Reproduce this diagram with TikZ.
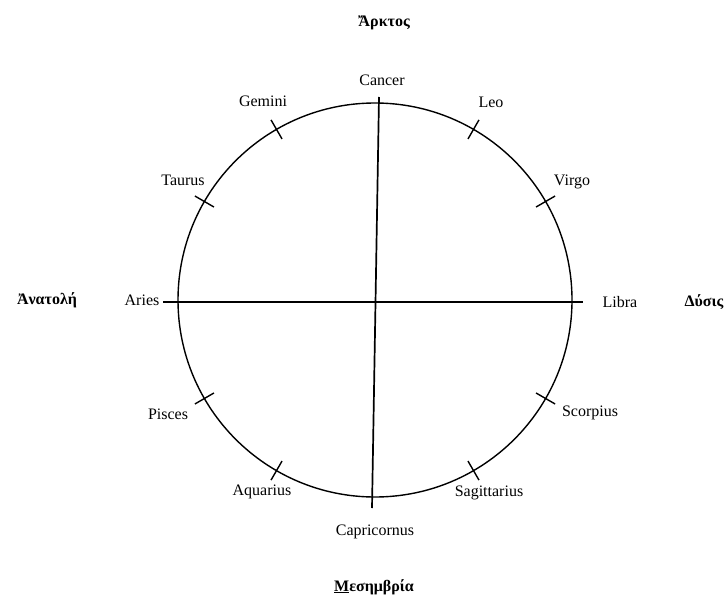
\documentclass[tikz,border=0pt]{standalone}
\usepackage{fontspec}
\setmainfont{Liberation Serif}
\usepackage{tikz}

\begin{document}
\begin{tikzpicture}[
  x=1pt, y=1pt,
  sign/.style={font=\fontsize{16}{18}\selectfont, inner sep=1pt},
  quarter/.style={font=\fontsize{16}{18}\selectfont\bfseries, inner sep=1pt},
  ring/.style={line width=1.4pt},
  axis/.style={line width=1.7pt},
]
\useasboundingbox (0,0) rectangle (727,598);
\coordinate (centre) at (375,298);
% circle and axes
\draw[ring] (centre) circle[radius=197];
\coordinate (north) at (379,501);
\coordinate (south) at (372,90);
\coordinate (east) at (163,296);
\coordinate (west) at (583,296);
\draw[axis] (north) -- (south);
\draw[axis] (east) -- (west);
% ticks
\foreach \a in {30,60,120,150,210,240,300,330}
  \draw[ring] ([shift={(\a:186)}]centre) -- ([shift={(\a:208)}]centre);
% signs
\node[sign] (cancer)      at (382,518) {Cancer};
\node[sign] (gemini)      at (263,497) {Gemini};
\node[sign] (leo)         at (491,496) {Leo};
\node[sign] (taurus)      at (183,418) {Taurus};
\node[sign] (virgo)       at (572,416) {Virgo};
\node[sign] (aries)       at (142,298) {Aries};
\node[sign] (libra)       at (620,296) {Libra};
\node[sign] (pisces)      at (168,184) {Pisces};
\node[sign] (scorpius)    at (590,185) {Scorpius};
\node[sign] (aquarius)    at (262,106) {Aquarius};
\node[sign] (sagittarius) at (489,105) {Sagittarius};
\node[sign] (capricornus) at (375,66)  {Capricornus};
% quarters
\node[quarter] (arktos)     at (384,575) {Ἄρκτος};
\node[quarter] (anatoli)    at (47,298)  {Ἀνατολή};
\node[quarter] (dysis)      at (704,296) {Δύσις};
\node[quarter] (mesimvria)  at (374,11)  {\underline{Μ}εσημβρία};
\end{tikzpicture}
\end{document}
